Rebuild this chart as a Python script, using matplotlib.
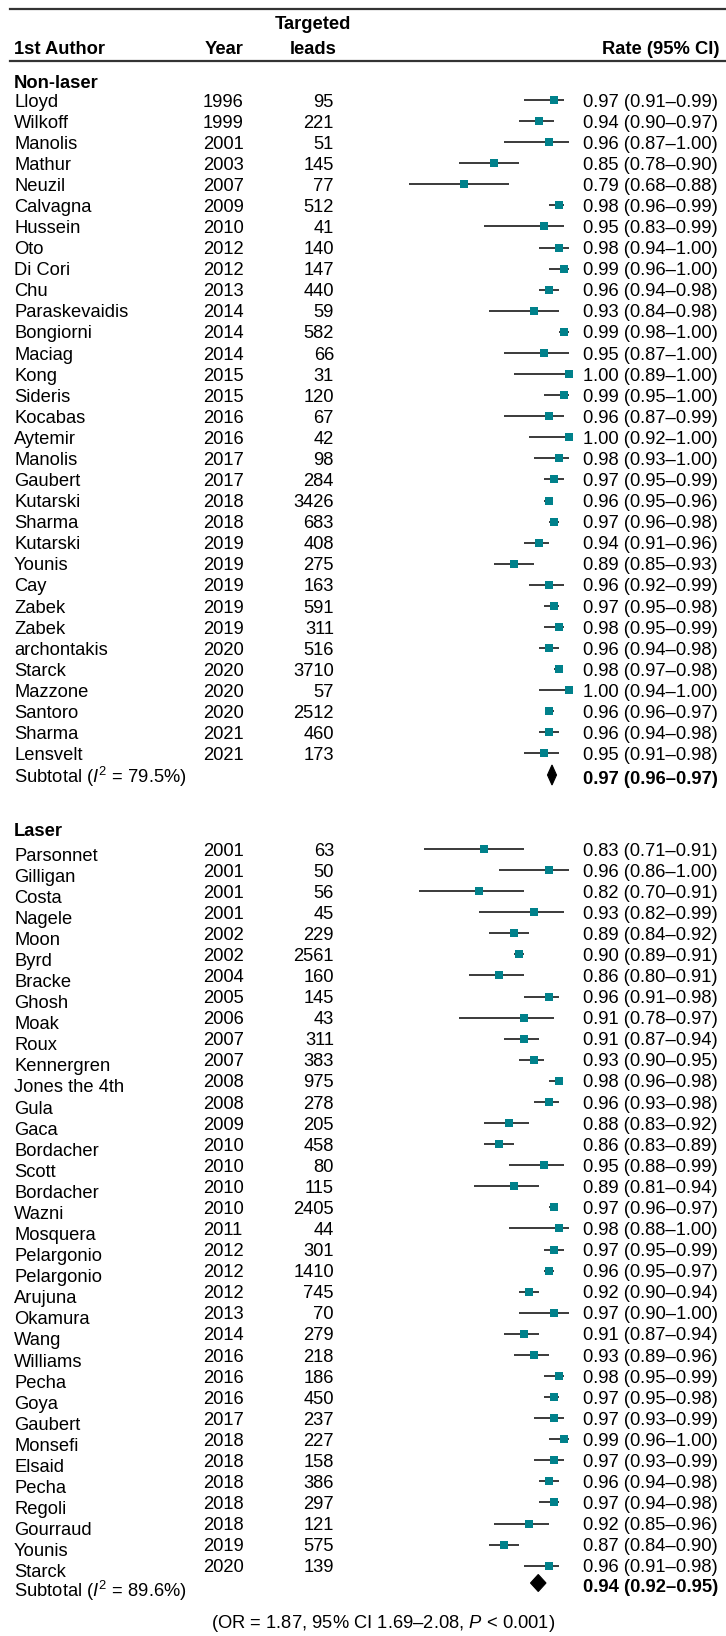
import numpy as np
import matplotlib
matplotlib.use("Agg")
import matplotlib.pyplot as plt
from matplotlib.patches import Polygon

plt.rcParams["font.family"] = "Liberation Sans"
plt.rcParams["mathtext.fontset"] = "custom"
plt.rcParams["mathtext.rm"] = "Liberation Sans"
plt.rcParams["mathtext.it"] = "Liberation Sans:italic"
plt.rcParams["mathtext.bf"] = "Liberation Sans:bold"

# Non-laser studies
nl_author = ["Lloyd", "Wilkoff", "Manolis", "Mathur", "Neuzil", "Calvagna", "Hussein", "Oto",
             "Di Cori", "Chu", "Paraskevaidis", "Bongiorni", "Maciag", "Kong", "Sideris", "Kocabas",
             "Aytemir", "Manolis", "Gaubert", "Kutarski", "Sharma", "Kutarski", "Younis", "Cay",
             "Zabek", "Zabek", "archontakis", "Starck", "Mazzone", "Santoro", "Sharma", "Lensvelt"]
nl_year = [1996, 1999, 2001, 2003, 2007, 2009, 2010, 2012, 2012, 2013, 2014, 2014, 2014, 2015, 2015, 2016,
           2016, 2017, 2017, 2018, 2018, 2019, 2019, 2019, 2019, 2019, 2020, 2020, 2020, 2020, 2021, 2021]
nl_leads = [95, 221, 51, 145, 77, 512, 41, 140, 147, 440, 59, 582, 66, 31, 120, 67,
            42, 98, 284, 3426, 683, 408, 275, 163, 591, 311, 516, 3710, 57, 2512, 460, 173]
nl_rate = [0.97, 0.94, 0.96, 0.85, 0.79, 0.98, 0.95, 0.98, 0.99, 0.96, 0.93, 0.99, 0.95, 1.00, 0.99, 0.96,
           1.00, 0.98, 0.97, 0.96, 0.97, 0.94, 0.89, 0.96, 0.97, 0.98, 0.96, 0.98, 1.00, 0.96, 0.96, 0.95]
nl_lo = [0.91, 0.90, 0.87, 0.78, 0.68, 0.96, 0.83, 0.94, 0.96, 0.94, 0.84, 0.98, 0.87, 0.89, 0.95, 0.87,
         0.92, 0.93, 0.95, 0.95, 0.96, 0.91, 0.85, 0.92, 0.95, 0.95, 0.94, 0.97, 0.94, 0.96, 0.94, 0.91]
nl_hi = [0.99, 0.97, 1.00, 0.90, 0.88, 0.99, 0.99, 1.00, 1.00, 0.98, 0.98, 1.00, 1.00, 1.00, 1.00, 0.99,
         1.00, 1.00, 0.99, 0.96, 0.98, 0.96, 0.93, 0.99, 0.98, 0.99, 0.98, 0.98, 1.00, 0.97, 0.98, 0.98]
nl_sub = (0.97, 0.96, 0.97)
nl_sub_diamond = (0.957, 0.975)  # diamond extent as drawn in the figure
nl_i2 = "79.5%"

# Laser studies
l_author = ["Parsonnet", "Gilligan", "Costa", "Nagele", "Moon", "Byrd", "Bracke", "Ghosh", "Moak", "Roux",
            "Kennergren", "Jones the 4th", "Gula", "Gaca", "Bordacher", "Scott", "Bordacher", "Wazni",
            "Mosquera", "Pelargonio", "Pelargonio", "Arujuna", "Okamura", "Wang", "Williams", "Pecha",
            "Goya", "Gaubert", "Monsefi", "Elsaid", "Pecha", "Regoli", "Gourraud", "Younis", "Starck"]
l_year = [2001, 2001, 2001, 2001, 2002, 2002, 2004, 2005, 2006, 2007, 2007, 2008, 2008, 2009, 2010, 2010,
          2010, 2010, 2011, 2012, 2012, 2012, 2013, 2014, 2016, 2016, 2016, 2017, 2018, 2018, 2018, 2018,
          2018, 2019, 2020]
l_leads = [63, 50, 56, 45, 229, 2561, 160, 145, 43, 311, 383, 975, 278, 205, 458, 80, 115, 2405, 44, 301,
           1410, 745, 70, 279, 218, 186, 450, 237, 227, 158, 386, 297, 121, 575, 139]
l_rate = [0.83, 0.96, 0.82, 0.93, 0.89, 0.90, 0.86, 0.96, 0.91, 0.91, 0.93, 0.98, 0.96, 0.88, 0.86, 0.95,
          0.89, 0.97, 0.98, 0.97, 0.96, 0.92, 0.97, 0.91, 0.93, 0.98, 0.97, 0.97, 0.99, 0.97, 0.96, 0.97,
          0.92, 0.87, 0.96]
l_lo = [0.71, 0.86, 0.70, 0.82, 0.84, 0.89, 0.80, 0.91, 0.78, 0.87, 0.90, 0.96, 0.93, 0.83, 0.83, 0.88,
        0.81, 0.96, 0.88, 0.95, 0.95, 0.90, 0.90, 0.87, 0.89, 0.95, 0.95, 0.93, 0.96, 0.93, 0.94, 0.94,
        0.85, 0.84, 0.91]
l_hi = [0.91, 1.00, 0.91, 0.99, 0.92, 0.91, 0.91, 0.98, 0.97, 0.94, 0.95, 0.98, 0.98, 0.92, 0.89, 0.99,
        0.94, 0.97, 1.00, 0.99, 0.97, 0.94, 1.00, 0.94, 0.96, 0.99, 0.98, 0.99, 1.00, 0.99, 0.98, 0.98,
        0.96, 0.90, 0.98]
l_sub = (0.94, 0.92, 0.95)
l_sub_diamond = (0.923, 0.954)
l_i2 = "89.6%"

overall_txt = "(OR = 1.87, 95% CI 1.69\u20132.08, $P$ < 0.001)"

teal = "#00818b"
fs = 13.2
base = 6.6  # baseline offset below a row's centre (px)

fig = plt.figure(figsize=(7.26, 16.36), dpi=100)
# text layer in pixel units
ax = fig.add_axes([0, 0, 1, 1])
ax.set_xlim(0, 726)
ax.set_ylim(1636, 0)
ax.axis("off")
# forest layer: rate on x, same pixel rows on y
axf = fig.add_axes([0, 0, 1, 1])
axf.set_xlim(-0.138, 1.314)
axf.set_ylim(1636, 0)
axf.axis("off")
axf.patch.set_alpha(0)

x_name, x_year, x_leads, x_ci = 14, 203, 334, 583

# header
ax.plot([10, 726], [9, 9], color="#333333", lw=1.6)
ax.plot([10, 726], [61, 61], color="#333333", lw=1.6)
ax.text(313, 22 + base, "Targeted", ha="center", va="baseline", fontsize=fs, fontweight="bold")
ax.text(x_name, 47 + base, "1st Author", ha="left", va="baseline", fontsize=fs, fontweight="bold")
ax.text(x_year + 2, 47 + base, "Year", ha="left", va="baseline", fontsize=fs, fontweight="bold")
ax.text(313, 47 + base, "leads", ha="center", va="baseline", fontsize=fs, fontweight="bold")
ax.text(720, 47 + base, "Rate (95% CI)", ha="right", va="baseline", fontsize=fs, fontweight="bold")


def ci_label(r, lo, hi):
    return f"{r:.2f} ({lo:.2f}\u2013{hi:.2f})"


def group(title, y_title, authors, years, leads, rate, lo, hi, y0, name_shift,
          sub, dia, i2, y_sub, y_diamond, dh):
    ax.text(x_name, y_title + base, title, ha="left", va="baseline", fontsize=fs, fontweight="bold")
    ys = y0 + 21.08 * np.arange(len(authors))
    for y, a, yr, n, r, l, h in zip(ys, authors, years, leads, rate, lo, hi):
        ax.text(x_name, y + name_shift + base, a, ha="left", va="baseline", fontsize=fs)
        ax.text(x_year, y + base, str(yr), ha="left", va="baseline", fontsize=fs)
        ax.text(x_leads, y + base, str(n), ha="right", va="baseline", fontsize=fs)
        ax.text(x_ci, y + base, ci_label(r, l, h), ha="left", va="baseline", fontsize=fs)
    axf.hlines(ys, lo, hi, color="#2b2b2b", lw=1.3, zorder=2)
    axf.plot(rate, ys, "s", color=teal, ms=6.2, mew=0, zorder=3)
    dlo, dhi = dia
    mid = (dlo + dhi) / 2
    axf.add_patch(Polygon([(dlo, y_diamond), (mid, y_diamond - dh), (dhi, y_diamond), (mid, y_diamond + dh)],
                          closed=True, facecolor="black", edgecolor="black", lw=0.8, zorder=3))
    ax.text(x_name, y_sub + base, f"Subtotal ($I^2$ = {i2})", ha="left", va="baseline", fontsize=fs)
    est, slo, shi = sub
    ax.text(x_ci, y_diamond + 2 + base, ci_label(est, slo, shi), ha="left", va="baseline",
            fontsize=fs, fontweight="bold")


group("Non-laser", 81, nl_author, nl_year, nl_leads, nl_rate, nl_lo, nl_hi, 100, 0,
      nl_sub, nl_sub_diamond, nl_i2, 776, 775, 10)
group("Laser", 829, l_author, l_year, l_leads, l_rate, l_lo, l_hi, 849, 5,
      l_sub, l_sub_diamond, l_i2, 1590, 1583, 8.5)

ax.text(383, 1621 + base, overall_txt, ha="center", va="baseline", fontsize=fs)

fig.savefig("out.png", dpi=100)
